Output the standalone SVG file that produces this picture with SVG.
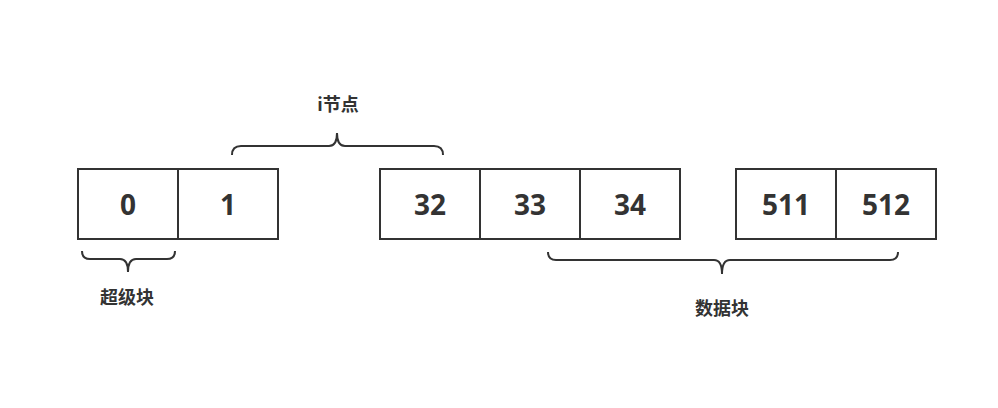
<svg xmlns="http://www.w3.org/2000/svg" width="998" height="408" viewBox="0 0 998 408">
<style>
.box{fill:#fff;stroke:#333;stroke-width:2}
.num{font-family:"Open Sans","Noto Sans",sans-serif;font-weight:bold;font-size:28px;fill:#333;text-anchor:middle;dominant-baseline:central}
.lbl{font-family:"Noto Sans CJK SC",sans-serif;font-weight:bold;font-size:18px;fill:#333;text-anchor:middle;dominant-baseline:central}
.brace{fill:none;stroke:#333;stroke-width:2}
</style>
<rect width="998" height="408" fill="#fff"/>
<g id="block0"><rect class="box" x="78" y="169" width="100" height="70"/><text class="num" x="128" y="204">0</text></g>
<g id="block1"><rect class="box" x="178" y="169" width="100" height="70"/><text class="num" x="228" y="204">1</text></g>
<g id="block32"><rect class="box" x="380" y="169" width="100" height="70"/><text class="num" x="430" y="204">32</text></g>
<g id="block33"><rect class="box" x="480" y="169" width="100" height="70"/><text class="num" x="530" y="204">33</text></g>
<g id="block34"><rect class="box" x="580" y="169" width="100" height="70"/><text class="num" x="630" y="204">34</text></g>
<g id="block511"><rect class="box" x="736" y="169" width="100" height="70"/><text class="num" x="786" y="204">511</text></g>
<g id="block512"><rect class="box" x="836" y="169" width="100" height="70"/><text class="num" x="886" y="204">512</text></g>
<g id="connectors">
<path class="brace" d="M232,155 Q232,146 241,146 L329,146 Q337,146 337,133 Q337,146 345,146 L434,146 Q443,146 443,155"/>
<path class="brace" d="M82,251 Q82,259 90,259 L120,259 Q128,259 128,272 Q128,259 136,259 L167,259 Q175,259 175,251"/>
<path class="brace" d="M548,252 Q548,260 556,260 L714,260 Q722,260 722,274 Q722,260 730,260 L890,260 Q898,260 898,252"/>
</g>
<g id="label-inode"><text class="lbl" x="338" y="103">i节点</text></g>
<g id="label-super"><text class="lbl" x="127" y="296">超级块</text></g>
<g id="label-data"><text class="lbl" x="722" y="307">数据块</text></g>
</svg>
